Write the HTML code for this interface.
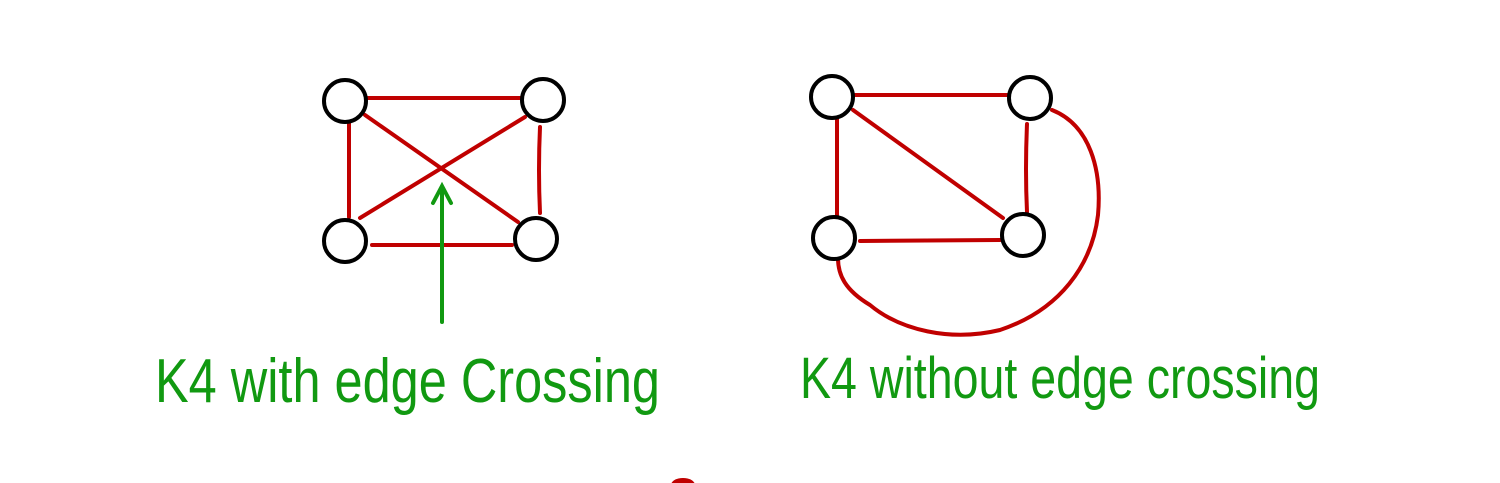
<!DOCTYPE html>
<html><head><meta charset="utf-8"><style>
html,body{margin:0;padding:0;background:#fff;width:1500px;height:483px;overflow:hidden}
svg{display:block}
</style></head><body>
<svg width="1500" height="483" viewBox="0 0 1500 483">
<g stroke="#c00000" stroke-width="4" fill="none" stroke-linecap="round">
<line x1="368" y1="98" x2="520" y2="98"/>
<line x1="349" y1="123" x2="349" y2="217"/>
<line x1="372" y1="245" x2="512" y2="245"/>
<path d="M540 127 Q538 170 540 213"/>
<line x1="365" y1="115" x2="518" y2="222"/>
<line x1="360" y1="218" x2="525" y2="117"/>
</g>
<g stroke="#c00000" stroke-width="4" fill="none" stroke-linecap="round">
<line x1="855" y1="95" x2="1007" y2="95"/>
<line x1="837" y1="119" x2="837" y2="215"/>
<line x1="853" y1="110" x2="1003" y2="218"/>
<line x1="860" y1="241" x2="1000" y2="240"/>
<path d="M1027 124 Q1025 170 1027 212"/>
<path d="M1052 110 C1090 125 1102 170 1098 215 C1092 265 1060 310 1000 330 C950 342 900 330 870 305 C845 290 838 275 838 258"/>
</g>
<g stroke="#000" stroke-width="4" fill="#fff">
<circle cx="345" cy="101" r="21"/>
<circle cx="543" cy="100" r="21"/>
<circle cx="345" cy="241" r="21"/>
<circle cx="536" cy="239" r="21"/>
<circle cx="832" cy="97" r="21"/>
<circle cx="1030" cy="98" r="21"/>
<circle cx="834" cy="238" r="21"/>
<circle cx="1023" cy="235" r="21"/>
</g>
<g stroke="#119911" stroke-width="4" fill="none" stroke-linecap="round">
<line x1="442" y1="322" x2="442" y2="188"/>
<polyline points="433,203 442,186 451,203"/>
</g>
<text x="155" y="402" font-family="Liberation Sans, sans-serif" font-size="62" fill="#119911" textLength="505" lengthAdjust="spacingAndGlyphs">K4 with  edge Crossing</text>
<text x="800" y="398" font-family="Liberation Sans, sans-serif" font-size="58" fill="#119911" textLength="520" lengthAdjust="spacingAndGlyphs">K4  without edge crossing</text>
<ellipse cx="683" cy="485" rx="12" ry="7" fill="#c00000"/>
</svg>
</body></html>
